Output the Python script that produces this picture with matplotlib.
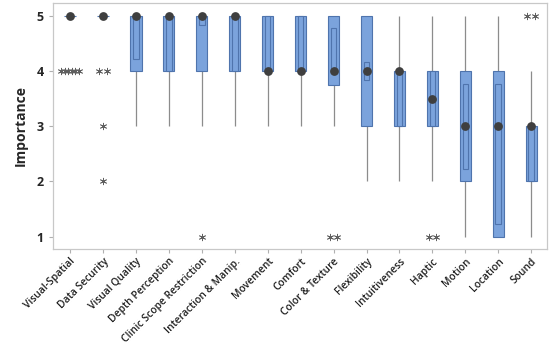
import matplotlib
matplotlib.use("Agg")
import matplotlib.pyplot as plt
import numpy as np

categories = ["Visual-Spatial", "Data Security", "Visual Quality", "Depth Perception",
              "Clinic Scope Restriction", "Interaction & Manip.", "Movement", "Comfort",
              "Color & Texture", "Flexibility", "Intuitiveness", "Haptic", "Motion",
              "Location", "Sound"]
q1 =      [5, 5, 4, 4, 4, 4, 4, 4, 3.75, 3, 3, 3, 2, 1, 2]
median =  [5, 5, 5, 5, 5, 5, 4, 4, 4, 4, 4, 3.5, 3, 3, 3]
q3 =      [5, 5, 5, 5, 5, 5, 5, 5, 5, 5, 4, 4, 4, 4, 3]
whisk_lo = [5, 5, 3, 3, 3, 3, 3, 3, 3, 2, 2, 2, 1, 1, 1]
whisk_hi = [5, 5, 5, 5, 5, 5, 5, 5, 5, 5, 5, 5, 5, 5, 4]
ci_lo =   [5, 5, 4.22, 4, 4.83, 4, 4, 4, 4, 3.84, 3, 3, 2.23, 1.23, 2]
ci_hi =   [5, 5, 5, 5, 5, 5, 5, 5, 4.77, 4.16, 4, 4, 3.77, 3.77, 3]
outliers = [[4, 4, 4, 4, 4, 4], [4, 4, 3, 2], [], [], [1], [], [], [], [1, 1], [], [],
            [1, 1], [], [], [5, 5]]
yticks = [1, 2, 3, 4, 5]

box_face = "#7BA3DC"
box_edge = "#4F74AD"
grey = "#8C8C8C"
dot = "#3F3F3F"

fig = plt.figure(figsize=(5.5, 3.49), dpi=100)
ax = fig.add_axes([0.0956, 0.2865, 0.899, 0.705])

pos = np.arange(1, len(categories) + 1)
bw = 0.34
ciw = 0.17

# whiskers
ax.vlines(pos, whisk_lo, q1, color=grey, lw=0.9, zorder=1)
ax.vlines(pos, q3, whisk_hi, color=grey, lw=0.9, zorder=1)

# boxes
heights = np.array(q3) - np.array(q1)
ax.bar(pos, heights, bottom=q1, width=bw, color=box_face, edgecolor=box_edge,
       linewidth=0.8, zorder=2)
# CI boxes
ciheights = np.array(ci_hi) - np.array(ci_lo)
mask = ciheights > 0
ax.bar(pos[mask], ciheights[mask], bottom=np.array(ci_lo)[mask], width=ciw,
       color=box_face, edgecolor=box_edge, linewidth=0.8, zorder=3)

# medians
ax.scatter(pos, median, s=40, color=dot, zorder=5, linewidths=0)

# outliers, ties placed side by side
for p, outs in zip(pos, outliers):
    vals, counts = np.unique(outs, return_counts=True) if outs else ([], [])
    for v, c in zip(vals, counts):
        sp = 0.23 if c <= 2 else 0.55 / (c - 1)
        offs = (np.arange(c) - (c - 1) / 2) * sp
        ax.scatter(p + offs, [v] * c, marker=(6, 2, 0), s=22, color="#606060",
                   linewidths=0.6, zorder=4)

ax.set_xlim(0.47, 15.48)
ax.set_ylim(0.776, 5.23)
ax.set_xticks(pos)
ax.set_xticklabels(categories, rotation=45, ha="right", rotation_mode="anchor",
                   fontsize=7.4, fontfamily="Open Sans", fontweight="semibold",
                   color="#202020")
ax.set_yticks(yticks)
ax.set_yticklabels([str(t) for t in yticks], fontsize=9, fontfamily="Open Sans",
                   fontweight="bold", color="#262626")
ax.set_ylabel("Importance", fontsize=10, fontfamily="Open Sans", fontweight="bold",
              color="#262626", labelpad=6)
ax.tick_params(axis="both", length=3, color="#B0B0B0", width=0.8)
ax.tick_params(axis="x", pad=2)
for s in ax.spines.values():
    s.set_color("#C8C8C8")
    s.set_linewidth(0.9)

fig.savefig("out.png", dpi=100)
